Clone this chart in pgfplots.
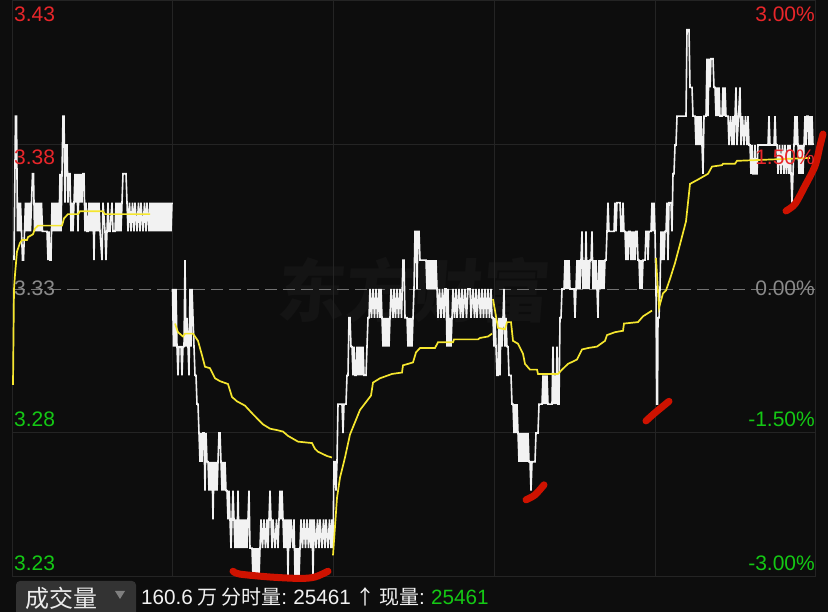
\documentclass[border=0pt]{standalone}
\usepackage{pgfplots}
\pgfplotsset{compat=1.18}
\usepackage{fontspec}
\setmainfont{Liberation Sans}
\newfontfamily\cjk{Noto Sans CJK SC}
\definecolor{bg}{HTML}{0D0D0D}
\definecolor{gridc}{HTML}{242424}
\definecolor{wline}{HTML}{F2F2F2}
\definecolor{yline}{HTML}{F5E62E}
\definecolor{rmark}{HTML}{CE1200}
\definecolor{lred}{HTML}{E8262A}
\definecolor{lgreen}{HTML}{14C814}
\definecolor{lgray}{HTML}{8A8A8A}
\definecolor{wmark}{HTML}{141414}
\begin{document}
\begin{tikzpicture}[x=1pt,y=1pt]
\path[use as bounding box] (0,0) rectangle (828,612);
\fill[bg] (0,0) rectangle (828,612);
\node[wmark,anchor=center,inner sep=0pt,xslant=0.08] at (415,322) {\cjk\bfseries\fontsize{68}{68}\selectfont 东方财富};
\begin{axis}[
  at={(13pt,35pt)},anchor=south west,scale only axis,width=802pt,height=576pt,
  xmin=13,xmax=815,ymin=323,ymax=343,
  axis line style={draw=gridc,line width=1pt},
  xtick={172,333,494,655},ytick={328,338},
  xticklabels={},yticklabels={},
  major tick length=0pt,
  grid=major,grid style={draw=gridc,line width=1pt},
  clip=false]
% dashed prior close
\addplot[draw=lgray!120,line width=0.9pt,dash pattern=on 12pt off 6pt] coordinates {(13,333)(815,333)};
% white price line, morning part 1
\addplot[draw=wline,line width=1.6pt] coordinates {(14,334)(15.5,339)(16.5,339)(17.5,335)(18.5,336)(19.5,335)(20.5,336)(21.5,335)(22.5,334)(23.5,334)(24.5,335)(25.5,336)(26.5,335)(27.5,336)(28.5,335)(29.5,336)(30.5,335)(31.5,336)(32.5,337)(33.5,337)(34.5,335)(35.5,336)(36.5,335)(37.5,336)(38.5,335)(39.5,336)(40.5,335)(41.5,336)(42.5,335)(44,335)(47,335)(48,334)(49,335)(50,334)(51,334)(52,336)(53,335)(54,336)(55,335)(56,336)(57,335)(58,336)(59,335)(60,337)(61,335)(62,337)(63,339)(64,339)(65,336)(66,338)(67,338)(68,336)(69,337)(70,337)(71,335)(72,336)(73,335)(74,336)(75,337)(76,336)(77,337)(78,335)(79,337)(80,336)(81,337)(82,336)(83,337)(84,337)(85,335)(86,336)(87,335)(88,335)(89,336)(90,335)(91,336)(92,335)(93,336)(94,334)(95,336)(96,335)(97,336)(98,335)(99,336)(100,335)(102,334)(103,336)(105,335)(106,334)(107,335)(108,336)(109,335)(110,335)(112,336)(113,335)(115,335)(116,336)(117,335)(118,336)(119,335)(120,336)(121,335)(122,336)(123,337)(124,337)(125,337)(126,337)(127,336)(128,335)(129.5,336)(131,335)(132.5,336)(134,335)(135,336)(137,335)(138.5,336)(140,335)(141,336)(143,335)(144.5,336)(146,335)(147,336)(149,335)(150,336)(151,335)(152,336)(153,335)(154,336)(155,335)(156,336)(157,335)(158,336)(159,335)(160,336)(161,335)(162,336)(163,335)(164,336)(165,335)(166,336)(167,335)(168,336)(169,335)(170,336)(171,335)(172,336)};
% white price line, parts 2-4
\addplot[draw=wline,line width=1.6pt] coordinates {(172.5,333)(173.5,331)(174.5,333)(175.5,331)(176,333)(177,331)(178,330)(179,331)(180,331)(181,331)(182,330)(183,331)(184,331)(185,334)(186,331)(187,332)(188,331)(189,330)(190,333)(191,331)(192,333)(193,332)(194,331)(195,330)(196,330)(197,329)(198,329)(199,328)(200,327)(201,328)(202,327)(203,328)(204,328)(205,326)(206,328)(207,327)(208,327)(209,326)(210,327)(211,326)(212,327)(213,325)(214,327)(215,326)(216,327)(217,326)(218,327)(219,328)(220,328)(221,327)(222,326)(223,327)(224,326)(225,327)(226,326)(227,326)(228,325)(229,326)(230,325)(231,324)(232,325)(233,326)(234,325)(235,324)(236,325)(237,324)(238,326)(239,324)(240,325)(241,324)(242,325)(243,324)(244,325)(245,324)(246,325)(247,324)(248,325)(249,326)(250,324)(251,324)(252,324)(253,323)(254,324)(255,323)(256,324)(257,323)(258,324)(259,323)(260,324)(261,325)(262.5,324)(264,325)(265.5,324)(267,325)(268,324)(269,325)(270,326)(271,325)(272,324)(273,325)(275,324)(276.5,325)(278,324)(279,325)(280,326)(281,325)(282,326)(283,325)(284,324)(285,325)(286,324)(287,325)(288,323)(289,325)(290,324)(291,325)(293,324)(294,325)(295,323)(296,324)(297,323)(298,324)(299,323)(300,324)(301,325)(302.5,324)(304,325)(305.5,324)(307,325)(308.5,324)(310,325)(311,324)(312,325)(313,323)(314,325)(316,324)(317.5,325)(319,324)(320,325)(322,324)(323.5,325)(325,324)(326,325)(328,324)(329.5,325)(331,324)(332,325)(333,324)(334,327)(335,327)(336,326)(337,327)(338,329)(339,329)(340,329)(341,329)(342,329)(343,328)(344,329)(345,329)(346,329)(347,330)(348,330)(349,332)(350,332)(351,331)(352,331)(353,330)(354,331)(355,330)(356,330)(357,331)(358,330)(359,331)(360,330)(361,331)(362,330)(363,331)(364,330)(365,330)(366,330)(367,331)(368,332)(369,332)(370,333)(371.5,332)(373,333)(374.5,332)(376,333)(377.5,332)(379,333)(380,332)(381,333)(382,332)(383,331)(384,332)(385,331)(386,332)(387,331)(388,332)(389,331)(390,332)(391,333)(393,332)(394,333)(395.5,332)(397,333)(398.5,332)(400,333)(401.5,332)(403,334)(404,334)(405,332)(406,332)(407,332)(408,331)(409,332)(410,331)(411,332)(412,331)(413,332)(414,333)(415,335)(416,335)(417,333)(418,335)(419,335)(420,334)(421,334)(422,334)(423,334)(424,334)(425,334)(426,334)(427,333)(428,334)(429,333)(430,334)(431,333)(432,334)(433,333)(434,334)(435,333)(436,334)(437,333)(438,332)(439.5,333)(441,332)(442.5,333)(444,332)(445,333)(446,333)(447,331)(448,333)(449,331)(450,332)(451,331)(452,332)(453,333)(454.5,332)(456,333)(457,332)(459,333)(460.5,332)(462,333)(463,332)(465,333)(466.5,332)(468,333)(470,333)(471,332)(473,333)(474.5,332)(476,333)(477,332)(479,333)(480.5,332)(482,333)(483.5,332)(485,333)(486.5,332)(488,333)(489.5,332)(491,333)(492,332)(493,332)(494,331)(495,332)(496,331)(497,330)(498,330)(499,332)(500,330)(501,332)(502,331)(503,332)(504,333)(505,331)(506,332)(507,331)(508,331)(509,330)(510,330)(511,330)(512,329)(513,329)(514,328)(515,329)(516,328)(517,329)(518,328)(519,327)(520,328)(521,327)(522,328)(523,327)(524,328)(525,327)(526,328)(527,327)(528,328)(529,327)(530,327)(531,326)(532,327)(533,327)(534,327)(535,327)(536,328)(537,328)(538,328)(539,329)(540,329)(541,329)(542,329)(543,330)(544,329)(545,330)(546,329)(547,330)(548,329)(549,329)(550,329)(551,329)(552,329)(553,331)(554,329)(555,330)(556,329)(557,331)(558,329)(559,329)(560,332)(561,332)(562,333)(563,333)(564,333)(565,334)(566,333)(567,334)(568,333)(569,334)(570,333)(571,333)(572,333)(573,333)(574,333)(575,332)(576,333)(577,334)(578,333)(579,334)(580,333)(581,334)(582,335)(583,333)(584,334)(585,333)(586,335)(587,333)(588,334)(589,333)(590,334)(591,334)(592,335)(593,333)(594,334)(595,333)(596,334)(597,333)(598,332)(599,334)(600,333)(601,334)(602,333)(603,334)(604,333)(605,334)(606,334)(607,335)(608,336)(609,335)(610,335)(611,335)(612,335)(613,335)(614,335)(615,336)(616,335)(617,336)(618,336)(619,336)(620,336)(621,335)(622,335)(623,336)(624,335)(625,335)(626,334)(627,335)(628,334)(629,335)(630,335)(631,334)(632,335)(633,334)(634,335)(635,334)(636,335)(637,335)(638,334)(639,334)(640,333)(641,334)(642,333)(643,334)(644,334)(645,334)(646,335)(647,335)(648,334)(649,335)(650,335)(651,335)(652,336)(653,335)(654,336)(655,335)(656,333)(656.7,329)(657.5,329)(658,332)(659,332)(660,333)(661,335)(662,334)(663,335)(664,334)(665,335)(666,335)(667,336)(668,334)(669,336)(670,336)(671,336)(672,335)(673,337)(674,337)(675,338)(676,338)(677,339)(678,339)(679,339)(680,339)(682,339)(684,339)(686,339)(687,342)(689,342)(690,340)(691,340)(692,340)(693,339)(695,339)(696,338)(697,339)(698,338)(699,339)(700,338)(701,339)(702,338)(703,337)(704,339)(705,339)(706,339)(707,341)(708,339)(709,341)(710,340)(711,341)(712,341)(713,341)(714,340)(715,340)(716,339)(717,340)(718,339)(719,340)(720,339)(721,339)(722,339)(723,340)(724,339)(725,340)(726,339)(727,339)(728,339)(729,338)(730.5,339)(732,338)(733,339)(734,338)(735,339)(736,340)(737,338)(738.5,339)(740,340)(741,338)(742.5,339)(744,338)(745.5,339)(747,338)(748,339)(749,338)(750,338)(751,337)(752,338)(753,337)(754,337)(755,338)(756,337)(757,337)(758,338)(759,338)(760,338)(765,338)(768,338)(769,339)(770,338)(771,338)(774,338)(775,339)(776,338)(777,338)(778,337)(779.5,338)(781,337)(782.5,338)(784,337)(785,338)(786.5,337)(788,338)(789,337)(790,338)(791,337)(792,336)(793,337)(794,338)(795,339)(796,338)(797,339)(798,338)(799,337)(800,338)(801,337)(802,338)(803,337)(804,338)(805,339)(806,338)(807,339)(808,339)(809,338)(810,339)(811,338)(812,339)(813,338)};
% average line
\addplot[draw=yline,line width=1.7pt] coordinates {(13,329.67)(14,333)(15,333.5)(17,334.3)(20,334.6)(22,334.7)(27,334.7)(28,334.8)(33,334.9)(35,335.1)(38,335.2)(62,335.2)(64,335.45)(68,335.6)(78,335.6)(80,335.7)(90,335.7)(103,335.7)(105,335.6)(150,335.6)};
\addplot[draw=yline,line width=1.7pt] coordinates {(175,331.8)(178,331.5)(183,331.35)(185,331.45)(193,331.45)(198,331.2)(202,330.7)(205,330.3)(210,330.25)(215,329.9)(220,329.8)(228,329.7)(232,329.25)(237,329.1)(245,328.95)(253,328.65)(263,328.3)(270,328.15)(277,328.1)(283,328.05)(288,327.9)(298,327.7)(312,327.65)(315,327.45)(318,327.35)(327,327.2)(332,327.15)};
\addplot[draw=yline,line width=1.7pt] coordinates {(333,323.75)(337,325.75)(340,326.45)(345,327.15)(350,327.95)(360,328.8)(371,329.3)(373,329.75)(380,329.9)(392,330.05)(402,330.1)(403,330.35)(413,330.45)(416,330.8)(420,330.95)(435,330.95)(438,331.15)(453,331.15)(454,331.25)(478,331.25)(480,331.3)(488,331.35)(492,331.45)};
\addplot[draw=yline,line width=1.7pt] coordinates {(493,332.65)(498,331.65)(505,331.6)(507,331.85)(511,331.85)(513,331.2)(518,331.1)(523,330.75)(525,330.4)(530,330.2)(537,330.2)(538,330.05)(558,330.05)(562,330.2)(568,330.4)(577,330.55)(582,330.9)(588,330.95)(597,331)(605,331.2)(607,331.4)(615,331.5)(623,331.55)(624,331.8)(638,331.85)(643,332.05)(652,332.25)};
\addplot[draw=yline,line width=1.7pt] coordinates {(656,334.07)(659,332.35)(663,332.85)(666,332.95)(670,333.35)(675,333.9)(680,334.55)(686,335.35)(690,336.65)(698,336.8)(708,337)(712,337.25)(722,337.3)(723,337.35)(735,337.35)(737,337.45)(810,337.55)};
% red hand strokes
\addplot[draw=rmark,line width=7pt,line cap=round,line join=round,smooth] coordinates {(233,323.2)(240,323.1)(270,323)(300,322.95)(315,323)(328,323.2)};
\addplot[draw=rmark,line width=7pt,line cap=round,line join=round,smooth] coordinates {(526,325.68)(535,325.85)(544,326.2)};
\addplot[draw=rmark,line width=7pt,line cap=round,line join=round,smooth] coordinates {(646,328.42)(655,328.7)(669,329.1)};
\addplot[draw=rmark,line width=7pt,line cap=round,line join=round,smooth] coordinates {(786,335.71)(795,335.95)(805,336.58)(815,337.27)(820,337.97)(823,338.38)};
\end{axis}
\node[anchor=west,inner sep=0pt,text=lred,font=\fontsize{21}{21}\selectfont] at (14,598) {3.43};
\node[anchor=west,inner sep=0pt,text=lred,font=\fontsize{21}{21}\selectfont] at (14,455) {3.38};
\node[anchor=west,inner sep=0pt,text=lgray,font=\fontsize{21}{21}\selectfont] at (14,324) {3.33};
\node[anchor=west,inner sep=0pt,text=lgreen,font=\fontsize{21}{21}\selectfont] at (14,193) {3.28};
\node[anchor=west,inner sep=0pt,text=lgreen,font=\fontsize{21}{21}\selectfont] at (14,49) {3.23};
\node[anchor=east,inner sep=0pt,text=lred,font=\fontsize{21}{21}\selectfont] at (815,598) {3.00\%};
\node[anchor=east,inner sep=0pt,text=lred,font=\fontsize{21}{21}\selectfont] at (815,455) {1.50\%};
\node[anchor=east,inner sep=0pt,text=lgray,font=\fontsize{21}{21}\selectfont] at (815,324) {0.00\%};
\node[anchor=east,inner sep=0pt,text=lgreen,font=\fontsize{21}{21}\selectfont] at (815,193) {-1.50\%};
\node[anchor=east,inner sep=0pt,text=lgreen,font=\fontsize{21}{21}\selectfont] at (815,49) {-3.00\%};
% bottom bar
\fill[fill=black!80,rounded corners=4pt] (16,-4) rectangle (136,31);
\node[anchor=west,inner sep=0pt,text=white!92!black] at (25,14) {\cjk\fontsize{24}{24}\selectfont 成交量};
\fill[black!50] (115,21) -- (125,21) -- (120,13) -- cycle;
\node[anchor=west,inner sep=0pt,text=white!95!black] at (141,15) {\fontsize{20.7}{21}\selectfont\spaceskip=4.2pt 160.6 {\cjk\fontsize{20}{20}\selectfont 万} {\cjk\fontsize{20}{20}\selectfont 分时量}: 25461 {\cjk\fontsize{20}{20}\selectfont ↑} {\cjk\fontsize{20}{20}\selectfont 现量}: \textcolor{lgreen}{25461}};
\end{tikzpicture}
\end{document}
